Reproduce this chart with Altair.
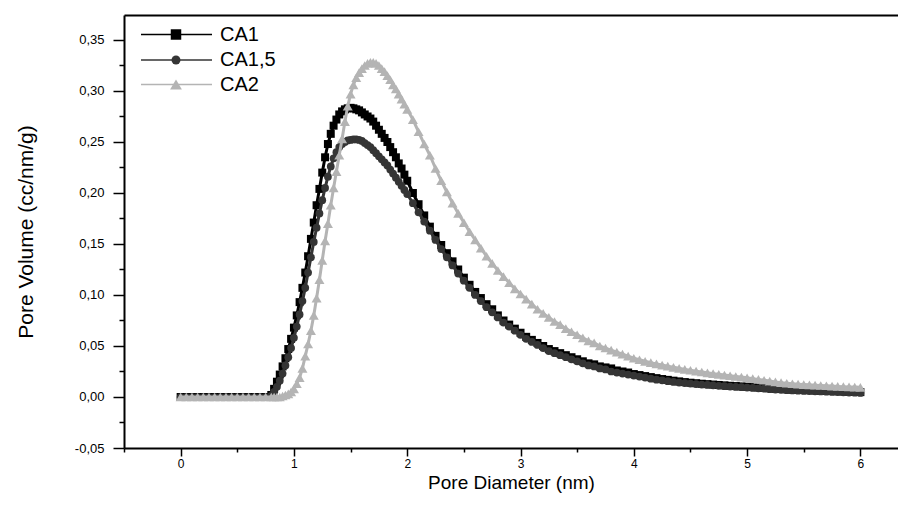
import altair as alt
import pandas as pd

# ---------------- data ----------------
pore_diameter = [
    0.00, 0.05, 0.10, 0.15, 0.20, 0.25, 0.30, 0.35, 0.40, 0.45, 0.50, 0.55, 0.60, 0.65, 0.70, 0.75,
    0.800, 0.825, 0.850, 0.875, 0.900, 0.925, 0.950, 0.975,
    1.000, 1.025, 1.050, 1.075, 1.100, 1.125, 1.150, 1.175, 1.200, 1.225, 1.250, 1.275,
    1.300, 1.325, 1.350, 1.375, 1.400, 1.425, 1.450, 1.475, 1.500, 1.525, 1.550, 1.575,
    1.600, 1.625, 1.650, 1.675, 1.700, 1.725, 1.750, 1.775, 1.800, 1.825, 1.850, 1.875,
    1.900, 1.925, 1.950, 1.975, 2.000,
    2.05, 2.10, 2.15, 2.20, 2.25, 2.30, 2.35, 2.40, 2.45, 2.50, 2.55, 2.60, 2.65, 2.70, 2.75, 2.80,
    2.85, 2.90, 2.95, 3.00, 3.05, 3.10, 3.15, 3.20, 3.25, 3.30, 3.35, 3.40, 3.45, 3.50, 3.55, 3.60,
    3.65, 3.70, 3.75, 3.80, 3.85, 3.90, 3.95, 4.00, 4.05, 4.10, 4.15, 4.20, 4.25, 4.30, 4.35, 4.40,
    4.45, 4.50, 4.55, 4.60, 4.65, 4.70, 4.75, 4.80, 4.85, 4.90, 4.95, 5.00, 5.05, 5.10, 5.15, 5.20,
    5.25, 5.30, 5.35, 5.40, 5.45, 5.50, 5.55, 5.60, 5.65, 5.70, 5.75, 5.80, 5.85, 5.90, 5.95, 6.00,
]

ca1 = [
    0, 0, 0, 0, 0, 0, 0, 0, 0, 0, 0, 0, 0, 0, 0, 0,
    0.002, 0.008, 0.015, 0.022, 0.030, 0.038, 0.047, 0.057,
    0.068, 0.080, 0.093, 0.107, 0.122, 0.138, 0.155, 0.171, 0.188, 0.204, 0.220, 0.235,
    0.248, 0.258, 0.266, 0.272, 0.277, 0.280, 0.282, 0.283, 0.2835, 0.283, 0.282, 0.281,
    0.279, 0.277, 0.275, 0.273, 0.270, 0.266, 0.262, 0.258, 0.254, 0.250, 0.245, 0.240,
    0.235, 0.229, 0.224, 0.218, 0.212,
    0.200, 0.189, 0.178, 0.167, 0.158, 0.149, 0.141, 0.133, 0.125, 0.117, 0.110, 0.103, 0.097, 0.091, 0.086, 0.080,
    0.075, 0.071, 0.067, 0.063, 0.059, 0.056, 0.053, 0.050, 0.047, 0.045, 0.043, 0.041, 0.039, 0.037, 0.035, 0.033,
    0.032, 0.030, 0.029, 0.028, 0.026, 0.025, 0.024, 0.0225, 0.0215, 0.0205, 0.0195, 0.0185, 0.0176, 0.0168, 0.016, 0.0153,
    0.0146, 0.014, 0.0135, 0.013, 0.0126, 0.0122, 0.0118, 0.0114, 0.011, 0.0107, 0.0104, 0.0101, 0.0097, 0.0093, 0.0089, 0.0085,
    0.0081, 0.0078, 0.0075, 0.0072, 0.007, 0.0068, 0.0066, 0.0064, 0.0062, 0.006, 0.0058, 0.0056, 0.0054, 0.0052, 0.005, 0.0048,
]

ca1_5 = [
    0, 0, 0, 0, 0, 0, 0, 0, 0, 0, 0, 0, 0, 0, 0, 0,
    0.001, 0.005, 0.010, 0.016, 0.023, 0.031, 0.039, 0.048,
    0.058, 0.069, 0.081, 0.094, 0.107, 0.122, 0.137, 0.152, 0.166, 0.180, 0.193, 0.205,
    0.216, 0.226, 0.234, 0.240, 0.245, 0.248, 0.250, 0.2515, 0.252, 0.2525, 0.2525, 0.252,
    0.251, 0.249, 0.247, 0.245, 0.242, 0.239, 0.236, 0.233, 0.230, 0.227, 0.223, 0.219,
    0.215, 0.211, 0.207, 0.203, 0.199,
    0.190, 0.181, 0.172, 0.163, 0.154, 0.145, 0.137, 0.129, 0.121, 0.114, 0.107, 0.100, 0.094, 0.088, 0.083, 0.078,
    0.073, 0.069, 0.065, 0.061, 0.057, 0.054, 0.051, 0.048, 0.045, 0.043, 0.041, 0.039, 0.037, 0.035, 0.033, 0.031,
    0.030, 0.028, 0.027, 0.025, 0.024, 0.023, 0.022, 0.021, 0.020, 0.019, 0.018, 0.017, 0.0163, 0.0155, 0.0148, 0.0142,
    0.0137, 0.0132, 0.0127, 0.0122, 0.0118, 0.0114, 0.011, 0.0106, 0.0102, 0.0099, 0.0096, 0.0093, 0.0089, 0.0085, 0.0081, 0.0077,
    0.0073, 0.007, 0.0067, 0.0064, 0.0062, 0.006, 0.0058, 0.0056, 0.0054, 0.0052, 0.005, 0.0048, 0.0046, 0.0044, 0.0042, 0.004,
]

ca2 = [
    0, 0, 0, 0, 0, 0, 0, 0, 0, 0, 0, 0, 0, 0, 0, 0,
    0.000, 0.000, 0.000, 0.000, 0.001, 0.002, 0.003, 0.005,
    0.008, 0.013, 0.019, 0.028, 0.040, 0.052, 0.065, 0.080, 0.097, 0.115, 0.134, 0.153,
    0.170, 0.188, 0.205, 0.221, 0.237, 0.253, 0.270, 0.285, 0.297, 0.306, 0.313, 0.318,
    0.322, 0.325, 0.327, 0.328, 0.328, 0.327, 0.325, 0.322, 0.319, 0.315, 0.311, 0.306,
    0.302, 0.297, 0.292, 0.287, 0.282,
    0.272, 0.260, 0.248, 0.237, 0.224, 0.212, 0.201, 0.190, 0.180, 0.171, 0.162, 0.154, 0.146, 0.138, 0.131, 0.124,
    0.118, 0.112, 0.106, 0.101, 0.096, 0.091, 0.086, 0.082, 0.078, 0.074, 0.071, 0.067, 0.064, 0.061, 0.058, 0.055,
    0.053, 0.050, 0.048, 0.046, 0.044, 0.042, 0.040, 0.038, 0.0365, 0.035, 0.0337, 0.0325, 0.0313, 0.0302, 0.0291, 0.0281,
    0.0271, 0.0262, 0.0253, 0.0245, 0.0237, 0.0229, 0.0222, 0.0215, 0.0208, 0.0201, 0.0195, 0.0188, 0.018, 0.0172, 0.0164, 0.0156,
    0.0148, 0.0141, 0.0135, 0.013, 0.0126, 0.0122, 0.0119, 0.0116, 0.0113, 0.011, 0.0107, 0.0104, 0.0101, 0.0099, 0.0097, 0.0095,
]

series_names = ["CA1", "CA1,5", "CA2"]
series_values = [ca1, ca1_5, ca2]
series_colors = ["#000000", "#353535", "#b4b4b4"]
series_shapes = ["square", "circle", "triangle-up"]
series_sizes = [64, 60, 100]
legend_sizes = [110, 80, 140]

x_major = [0, 1, 2, 3, 4, 5, 6]
x_minor = [-0.5, 0.5, 1.5, 2.5, 3.5, 4.5, 5.5]
y_major = [-0.05, 0.0, 0.05, 0.10, 0.15, 0.20, 0.25, 0.30, 0.35]
y_minor = [-0.025, 0.025, 0.075, 0.125, 0.175, 0.225, 0.275, 0.325]

FONT = "Liberation Sans"

x_scale = alt.Scale(domain=[-0.5, 6.332], nice=False, zero=False)
y_scale = alt.Scale(domain=[-0.05, 0.3745], nice=False, zero=False)

layers = []

# axis carrier data
axis_df = pd.DataFrame({"d": pore_diameter, "v": ca1})

# major axes
layers.append(
    alt.Chart(axis_df).mark_point(opacity=0).encode(
        x=alt.X("d:Q", scale=x_scale, axis=alt.Axis(
            values=x_major, orient="bottom", title="Pore Diameter (nm)", format="d",
            tickSize=8, tickWidth=1.5, domainWidth=2, labelFontSize=12,
            titleFontSize=19, labelPadding=2, titlePadding=4, grid=False)),
        y=alt.Y("v:Q", scale=y_scale, axis=alt.Axis(
            values=y_major, orient="left", title="Pore Volume (cc/nm/g)",
            labelExpr="replace(replace(format(datum.value, '.2f'), '.', ','), '\u2212', '-')",
            tickSize=11, tickWidth=1.5, domainWidth=2, labelFontSize=13,
            titleFontSize=21, labelPadding=9, titlePadding=38, grid=False)),
    )
)

# minor ticks
layers.append(
    alt.Chart(axis_df).mark_point(opacity=0).encode(
        x=alt.X("d:Q", scale=x_scale, axis=alt.Axis(
            values=x_minor, orient="bottom", title=None, labels=False, domain=False,
            tickSize=4, tickWidth=1.5, grid=False)),
        y=alt.Y("v:Q", scale=y_scale, axis=alt.Axis(
            values=y_minor, orient="left", title=None, labels=False, domain=False,
            tickSize=5, tickWidth=1.5, grid=False)),
    )
)

# top frame line
layers.append(
    alt.Chart(axis_df).mark_point(opacity=0).encode(
        x=alt.X("d:Q", scale=x_scale, axis=alt.Axis(
            orient="top", title=None, labels=False, ticks=False, domain=True,
            domainWidth=2, grid=False)),
        y=alt.Y("v:Q", scale=y_scale, axis=None),
    )
)

# series
for name, vals, color, shape, size in zip(series_names, series_values, series_colors,
                                          series_shapes, series_sizes):
    df = pd.DataFrame({"d": pore_diameter, "v": vals, "series": name})
    base = alt.Chart(df)
    enc = dict(
        x=alt.X("d:Q", scale=x_scale, axis=None),
        y=alt.Y("v:Q", scale=y_scale, axis=None),
    )
    layers.append(base.mark_line(color=color, strokeWidth=3).encode(**enc))
    layers.append(base.mark_point(filled=True, shape=shape, size=size, color=color,
                                  opacity=1).encode(**enc))

# legend (top-left, inside the plot)
legend_rows_y = [19.5, 45, 69.5]
for name, color, shape, lsize, ry in zip(series_names, series_colors, series_shapes,
                                         legend_sizes, legend_rows_y):
    ldf = pd.DataFrame({"label": [name]})
    lb = alt.Chart(ldf)
    layers.append(lb.mark_rule(color=color, strokeWidth=1.5).encode(
        x=alt.value(17), x2=alt.value(88), y=alt.value(ry)))
    layers.append(lb.mark_point(filled=True, shape=shape, size=lsize, color=color,
                                opacity=1).encode(x=alt.value(52), y=alt.value(ry)))
    layers.append(lb.mark_text(align="left", baseline="middle", font=FONT, fontSize=20,
                               color="#000000").encode(
        x=alt.value(96), y=alt.value(ry), text="label:N"))

chart = alt.layer(*layers).resolve_axis(
    x="independent", y="independent"
).properties(
    width=774,
    height=433,
    autosize=alt.AutoSizeParams(type="none"),
    padding={"left": 116, "top": 7, "right": 0, "bottom": 47},
).configure_view(
    stroke=None
).configure_axis(
    labelFont=FONT, titleFont=FONT, titleFontWeight="normal",
    labelColor="#000000", titleColor="#000000",
    domainColor="#000000", tickColor="#000000",
)

chart.save("out.html", embed_options={"renderer": "svg", "actions": False})
